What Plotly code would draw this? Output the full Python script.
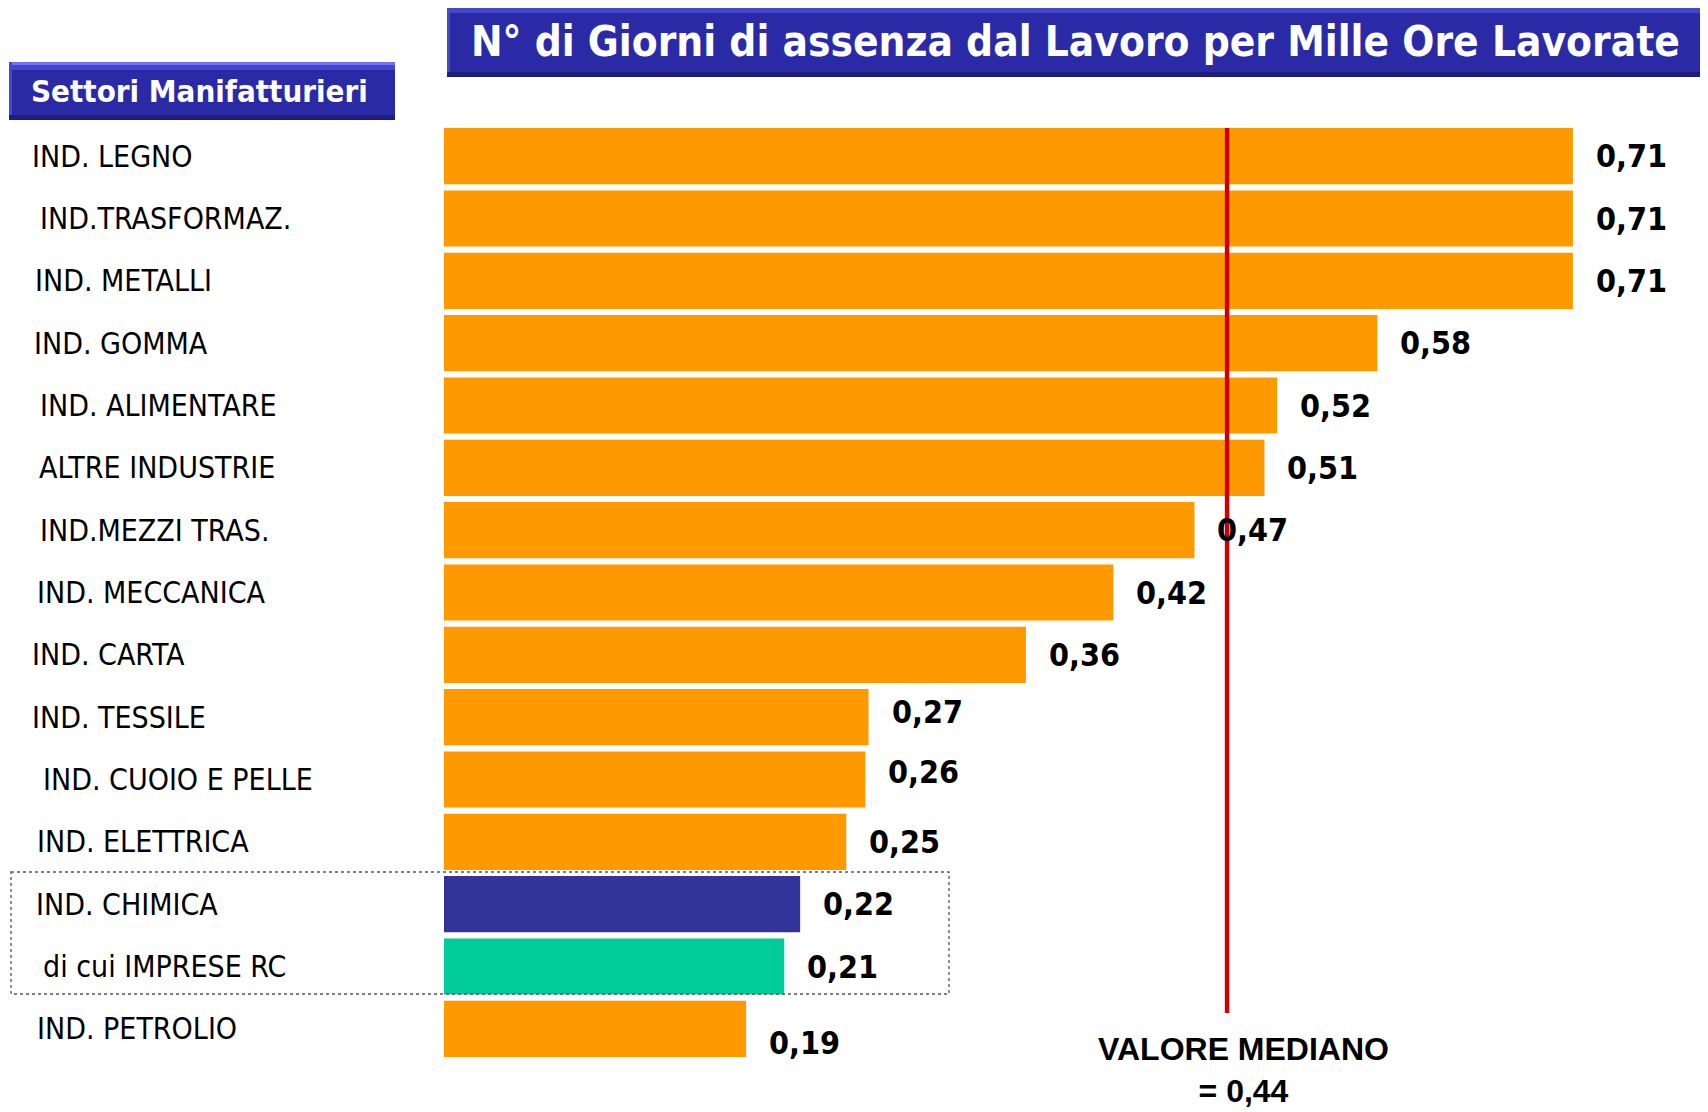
import plotly.graph_objects as go

# ---------------- data ----------------
categories = [
    "IND. LEGNO", "IND.TRASFORMAZ.", "IND. METALLI", "IND. GOMMA",
    "IND. ALIMENTARE", "ALTRE INDUSTRIE", "IND.MEZZI TRAS.", "IND. MECCANICA",
    "IND. CARTA", "IND. TESSILE", "IND. CUOIO E PELLE", "IND. ELETTRICA",
    "IND. CHIMICA", "di cui IMPRESE RC", "IND. PETROLIO",
]
# bar lengths (unrounded)
values = [0.710, 0.710, 0.710, 0.587, 0.524, 0.516, 0.472, 0.421, 0.366,
          0.267, 0.265, 0.253, 0.224, 0.214, 0.190]
# printed labels
value_labels = ["0,71", "0,71", "0,71", "0,58", "0,52", "0,51", "0,47", "0,42", "0,36",
                "0,27", "0,26", "0,25", "0,22", "0,21", "0,19"]
median_label_value = 0.44
median_line_x = 0.4925   # where the red line is drawn in the picture
title_text = "N° di Giorni di assenza dal Lavoro per Mille Ore Lavorate"
header_text = "Settori Manifatturieri"
median_text = "VALORE MEDIANO<br>= " + f"{median_label_value:.2f}".replace(".", ",")

# ---------------- styles ----------------
ORANGE = "#FF9900"
highlight = {"IND. CHIMICA": "#333399", "di cui IMPRESE RC": "#00CC99"}
colors = [highlight.get(c, ORANGE) for c in categories]

PAGE_OFF = 8                      # default body margin of the html page
FIG_W, FIG_H = 1708 - PAGE_OFF, 1112 - PAGE_OFF
# plot area in page pixels
PL, PR, PT, PB = 444, 1708, 125, 1060
L, R, T, B = PL - PAGE_OFF, PR - PAGE_OFF, PT - PAGE_OFF, PB - PAGE_OFF
W, H = R - L, B - T
PX_PER_UNIT = 1590.0

def px(x):  # page pixel -> paper
    return (x - PL) / W

def py(y):
    return (PB - y) / H

COND = "DejaVu Sans Condensed, Liberation Sans Narrow, DejaVu Sans, sans-serif"

fig = go.Figure()
fig.add_trace(go.Bar(
    x=values, y=categories, orientation="h",
    marker=dict(color=colors, line=dict(width=0)),
    hoverinfo="skip",
))

annotations = []
# value labels
value_dy = {"IND. PETROLIO": -14, "IND. TESSILE": 5, "IND. CUOIO E PELLE": 8}
for c, v, t in zip(categories, values, value_labels):
    annotations.append(dict(
        x=v, y=c, xref="x", yref="y", xanchor="left", yanchor="middle",
        xshift=21, yshift=value_dy.get(c, 0), showarrow=False,
        text=t,
        font=dict(family=COND, size=32, color="black", weight="bold"),
    ))

# category labels (individual text boxes on the left)
label_x_px = [30, 38, 33, 32, 38, 37, 38, 35, 30, 30, 41, 35, 34, 41, 35]
for c, lx in zip(categories, label_x_px):
    annotations.append(dict(
        x=px(lx), y=c, xref="paper", yref="y", xanchor="left", yanchor="middle",
        showarrow=False, text=c,
        font=dict(family=COND, size=30, color="black"),
    ))

# title and header
annotations.append(dict(
    x=px(1075), y=py(42), xref="paper", yref="paper", xanchor="center", yanchor="middle",
    showarrow=False, text=title_text,
    font=dict(family=COND, size=42, color="white", weight="bold"),
))
annotations.append(dict(
    x=px(199), y=py(91), xref="paper", yref="paper", xanchor="center", yanchor="middle",
    showarrow=False, text=header_text,
    font=dict(family=COND, size=31, color="white", weight="bold"),
))
# median label
annotations.append(dict(
    x=px(1243), y=py(1070), xref="paper", yref="paper", xanchor="center", yanchor="middle",
    showarrow=False, text=median_text, align="center",
    font=dict(family="Liberation Sans, Arial, sans-serif", size=32, color="black", weight="bold"),
))

shapes = []

def bevel_box(x0, y0, x1, y1):
    return [
        dict(type="rect", xref="paper", yref="paper", x0=px(x0), x1=px(x1), y0=py(y0), y1=py(y1),
             fillcolor="#2A2AA6", line=dict(width=0), layer="below"),
        dict(type="rect", xref="paper", yref="paper", x0=px(x0), x1=px(x1), y0=py(y0), y1=py(y0 + 3),
             fillcolor="#7272F2", line=dict(width=0), layer="below"),
        dict(type="rect", xref="paper", yref="paper", x0=px(x0), x1=px(x1), y0=py(y0 + 3), y1=py(y0 + 8),
             fillcolor="#4646CC", line=dict(width=0), layer="below"),
        dict(type="rect", xref="paper", yref="paper", x0=px(x0), x1=px(x0 + 3), y0=py(y0), y1=py(y1),
             fillcolor="#4848C8", line=dict(width=0), layer="below"),
        dict(type="rect", xref="paper", yref="paper", x0=px(x0), x1=px(x1), y0=py(y1 - 5), y1=py(y1),
             fillcolor="#1E1E7A", line=dict(width=0), layer="below"),
    ]

shapes += bevel_box(447, 5, 1712, 77)
shapes += bevel_box(9, 62, 395, 120)

# dotted box around chemical group
shapes.append(dict(type="rect", xref="paper", yref="paper",
                   x0=px(11), x1=px(949), y0=py(872), y1=py(994),
                   line=dict(color="#555555", width=1.3, dash="dot"), fillcolor="rgba(0,0,0,0)"))
# median line
shapes.append(dict(type="line", xref="x", yref="paper",
                   x0=median_line_x, x1=median_line_x, y0=py(1013), y1=py(128),
                   line=dict(color="#CC0000", width=4.5), layer="above"))

fig.update_layout(
    width=FIG_W, height=FIG_H,
    margin=dict(l=L, r=FIG_W - R, t=T, b=FIG_H - B, pad=0),
    paper_bgcolor="white", plot_bgcolor="white",
    showlegend=False, bargap=0.1,
    xaxis=dict(range=[0, W / PX_PER_UNIT], visible=False, fixedrange=True),
    yaxis=dict(autorange="reversed", visible=False, fixedrange=True),
    annotations=annotations, shapes=shapes,
)

fig.write_html("out.html")
